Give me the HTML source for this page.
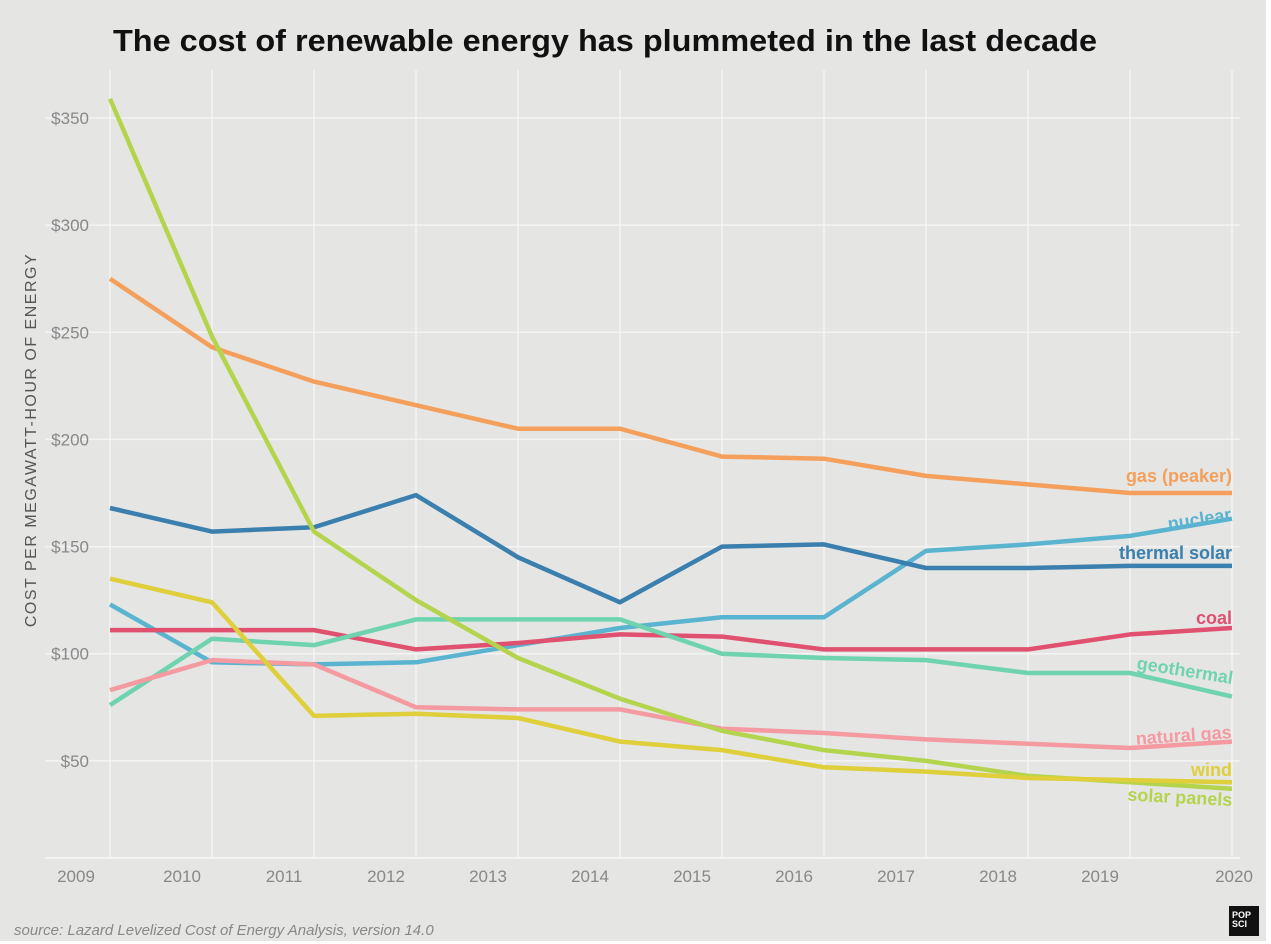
<!DOCTYPE html>
<html><head><meta charset="utf-8"><style>
body{margin:0;background:#fff;}
svg{display:block;font-family:"Liberation Sans",sans-serif;}
</style></head><body>
<svg width="1271" height="944" viewBox="0 0 1271 944">
<rect x="0" y="0" width="1266" height="941" fill="#e5e5e4"/>
<text x="113" y="51" font-size="31" font-weight="bold" fill="#111" textLength="984" lengthAdjust="spacingAndGlyphs">The cost of renewable energy has plummeted in the last decade</text>
<text transform="translate(36,440) rotate(-90)" text-anchor="middle" font-size="16" fill="#555" letter-spacing="1.5">COST PER MEGAWATT-HOUR OF ENERGY</text>
<g id="grid"></g><g id="lines"></g><g id="labels"></g>
<text x="14" y="935" font-size="15" font-style="italic" fill="#888">source: Lazard Levelized Cost of Energy Analysis, version 14.0</text>
<rect x="1229" y="906" width="30" height="30" fill="#111"/>
<text x="1232" y="918" font-size="9" font-weight="bold" fill="#fff">POP</text>
<text x="1232" y="927" font-size="9" font-weight="bold" fill="#fff">SCI</text>
</svg>
<script>
const years=[2009,2010,2011,2012,2013,2014,2015,2016,2017,2018,2019,2020];
const yTicks=[50,100,150,200,250,300,350];
const gasPeaker=[275,243,227,216,205,205,192,191,183,179,175,175];
const solarPanels=[359,248,157,125,98,79,64,55,50,43,40,37];
const thermalSolar=[168,157,159,174,145,124,150,151,140,140,141,141];
const nuclear=[123,96,95,96,104,112,117,117,148,151,155,163];
const coal=[111,111,111,102,105,109,108,102,102,102,109,112];
const geothermal=[76,107,104,116,116,116,100,98,97,91,91,80];
const naturalGas=[83,97,95,75,74,74,65,63,60,58,56,59];
const wind=[135,124,71,72,70,59,55,47,45,42,41,40];
const NS="http://www.w3.org/2000/svg";
const xS=i=>110+i*(1232-110)/(years.length-1);
const yS=v=>868-v*(868-118)/350;
function mk(t,a,p){const e=document.createElementNS(NS,t);for(const k in a)e.setAttribute(k,a[k]);p.appendChild(e);return e;}
const g=document.getElementById('grid');
yTicks.forEach(v=>{
 const l=mk('line',{x1:45,x2:1240,y1:yS(v),y2:yS(v),stroke:'#f4f4f4','stroke-width':1.5},g);
 
 
 const t=mk('text',{x:89,y:yS(v)+6,'text-anchor':'end','font-size':17,fill:'#888'},g);
 t.textContent='$'+v;
 
 
});
years.forEach((y,i)=>{
 const l=mk('line',{x1:xS(i),x2:xS(i),y1:70,y2:858,stroke:'#f4f4f4','stroke-width':1.5},g);
 
 
 const t=mk('text',{x:i==0?76:(i==years.length-1?1234:xS(i)-30),y:882,'text-anchor':'middle','font-size':17,fill:'#888'},g);
 t.textContent=y;
 
 
});
const base=mk('line',{x1:45,x2:1240,y1:858,y2:858,stroke:'#f4f4f4','stroke-width':2},g);


const series=[
 ['gas-peaker',gasPeaker,'#f4a05c','gas (peaker)',482,0],
 ['nuclear',nuclear,'#5ab4d0','nuclear',520,-9],
 ['thermal-solar',thermalSolar,'#3a7fad','thermal solar',559,0],
 ['coal',coal,'#e0506f','coal',624,0],
 ['geothermal',geothermal,'#6fd3b0','geothermal',684,9],
 ['natural-gas',naturalGas,'#f59aa0','natural gas',738,-4],
 ['solar-panels',solarPanels,'#b5d44e','solar panels',806,3],
 ['wind',wind,'#dfcf3a','wind',776,0]
];
const L=document.getElementById('lines'),LB=document.getElementById('labels');
series.forEach(([n,d,c,lab,ly,rot])=>{
 const p=mk('polyline',{points:d.map((v,i)=>xS(i)+','+yS(v)).join(' '),fill:'none',stroke:c,'stroke-width':4.5,'stroke-linejoin':'round'},L);
 
 
 const t=mk('text',{x:1232,y:ly,'text-anchor':'end','font-size':18,'font-weight':'bold',fill:c,transform:'rotate('+rot+',1232,'+ly+')'},LB);
 t.textContent=lab;
 
 
});
</script>
</body></html>
